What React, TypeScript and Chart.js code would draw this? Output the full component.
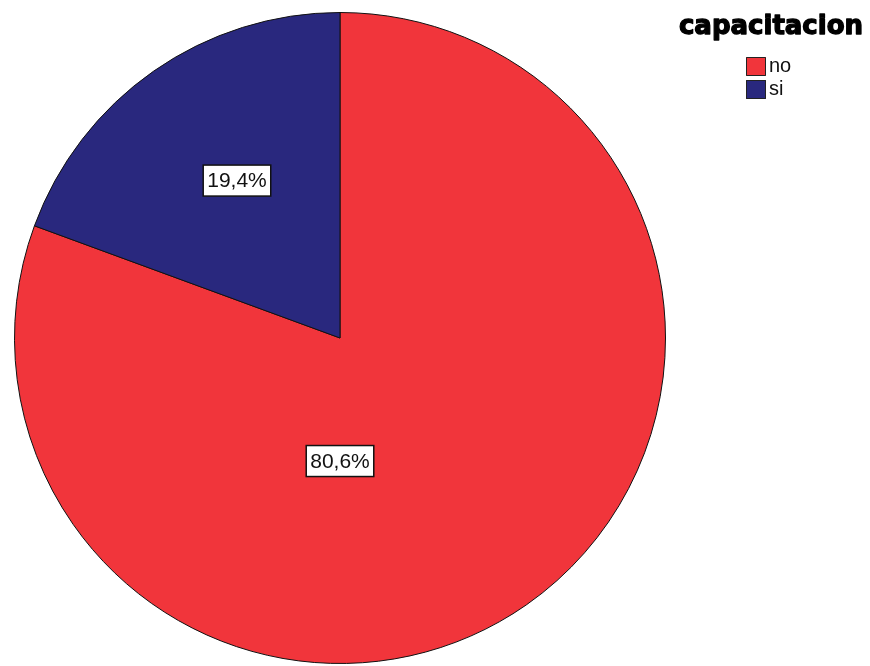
import React, { useEffect, useRef } from "react";
import { Chart, registerables } from "chart.js";

Chart.register(...registerables);

const legendTitle = "capacitacion";
const categories = ["no", "si"];
const percentages = [80.6, 19.4];
const percentLabels = ["80,6%", "19,4%"];
const sliceColors = ["#f1353b", "#29287e"];

const labelBoxes = {
  id: "labelBoxes",
  afterDatasetsDraw(chart: any, _args: any, opts: any) {
    const ctx = chart.ctx;
    const meta = chart.getDatasetMeta(0);
    ctx.save();
    ctx.font = "21px 'Liberation Sans', Arial, sans-serif";
    ctx.textAlign = "center";
    ctx.textBaseline = "middle";
    meta.data.forEach((arc: any, i: number) => {
      const p = opts.placement[i];
      const ang = p.angle === null ? (arc.startAngle + arc.endAngle) / 2 + p.shift : p.angle;
      const r = arc.outerRadius * p.radial;
      const x = arc.x + Math.cos(ang) * r;
      const y = arc.y + Math.sin(ang) * r;
      const text = percentLabels[i];
      const w = ctx.measureText(text).width + 8;
      const h = 31;
      ctx.fillStyle = "#ffffff";
      ctx.fillRect(x - w / 2, y - h / 2, w, h);
      ctx.strokeStyle = "#111111";
      ctx.lineWidth = 1.5;
      ctx.strokeRect(x - w / 2, y - h / 2, w, h);
      ctx.fillStyle = "#111111";
      ctx.fillText(text, x, y + 1);
    });
    ctx.restore();
  },
};

const sideLegend = {
  id: "sideLegend",
  afterDraw(chart: any) {
    const ctx = chart.ctx;
    ctx.save();
    ctx.fillStyle = "#000000";
    ctx.strokeStyle = "#000000";
    ctx.lineWidth = 1.3;
    ctx.lineJoin = "round";
    ctx.font = "bold 26px 'DejaVu Sans', sans-serif";
    ctx.textAlign = "center";
    ctx.textBaseline = "alphabetic";
    ctx.fillText(legendTitle, 771, 34);
    ctx.strokeText(legendTitle, 771, 34);
    ctx.font = "20px 'Liberation Sans', Arial, sans-serif";
    ctx.textAlign = "left";
    ctx.textBaseline = "middle";
    categories.forEach((c, i) => {
      const y = 57 + i * 23;
      ctx.fillStyle = sliceColors[i];
      ctx.fillRect(746, y, 20, 19);
      ctx.strokeStyle = "#222222";
      ctx.lineWidth = 1;
      ctx.strokeRect(746.5, y + 0.5, 19, 18);
      ctx.fillStyle = "#111111";
      ctx.fillText(c, 769, y + 9.5);
    });
    ctx.restore();
  },
};

export default function App() {
  const ref = useRef<HTMLCanvasElement>(null);
  useEffect(() => {
    if (!ref.current) return;
    const chart = new Chart(ref.current, {
      type: "pie",
      data: {
        labels: categories,
        datasets: [
          {
            data: percentages,
            backgroundColor: sliceColors,
            borderColor: "#111111",
            borderWidth: 1,
          },
        ],
      },
      options: {
        responsive: false,
        animation: false,
        layout: { padding: { left: 14, top: 12, right: 204, bottom: 2 } },
        plugins: {
          legend: { display: false },
          tooltip: { enabled: false },
          labelBoxes: {
            placement: [
              { angle: Math.PI / 2, radial: 0.378, shift: 0 },
              { angle: null, radial: 0.578, shift: 0.03 },
            ],
          },
        } as any,
      },
      plugins: [labelBoxes, sideLegend],
    });
    return () => chart.destroy();
  }, []);
  return (
    <div style={{ position: "fixed", left: 0, top: 0, width: 870, height: 666, background: "#fff" }}>
      <canvas ref={ref} width={870} height={666} />
    </div>
  );
}
